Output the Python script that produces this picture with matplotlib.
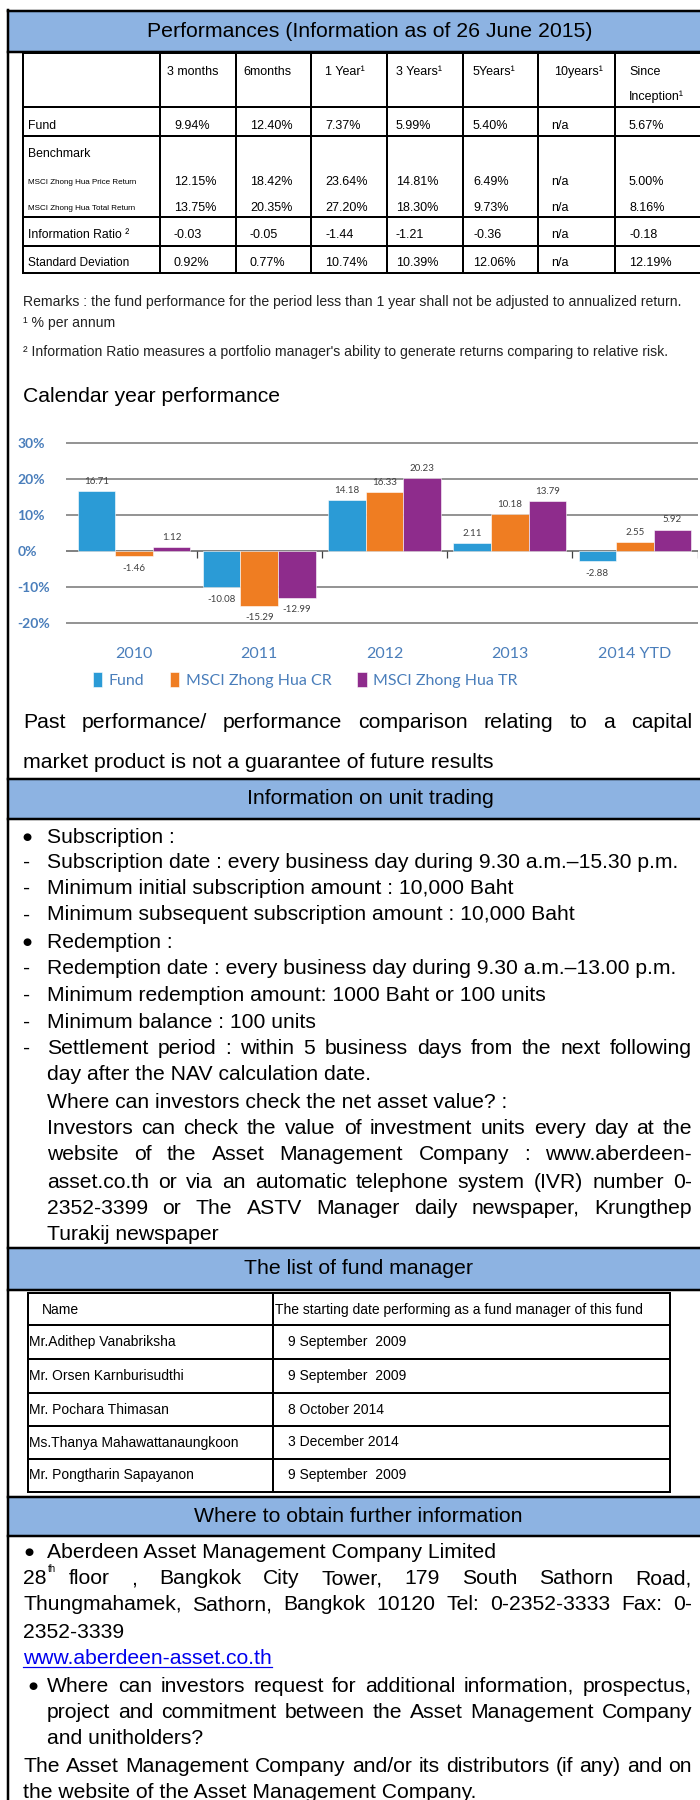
import numpy as np
import matplotlib
matplotlib.use('Agg')
import matplotlib.pyplot as plt
import matplotlib.font_manager as fm
from matplotlib.lines import Line2D
from matplotlib.patches import Rectangle

# ---------------- data ----------------
perf_cols = ['3 months', '6months', '1 Year¹', '3 Years¹', '5Years¹', '10years¹', 'Since\nInception¹']
fund_row = ['9.94%', '12.40%', '7.37%', '5.99%', '5.40%', 'n/a', '5.67%']
msci_price_row = ['12.15%', '18.42%', '23.64%', '14.81%', '6.49%', 'n/a', '5.00%']
msci_total_row = ['13.75%', '20.35%', '27.20%', '18.30%', '9.73%', 'n/a', '8.16%']
info_ratio_row = ['-0.03', '-0.05', '-1.44', '-1.21', '-0.36', 'n/a', '-0.18']
std_dev_row = ['0.92%', '0.77%', '10.74%', '10.39%', '12.06%', 'n/a', '12.19%']

years = ['2010', '2011', '2012', '2013', '2014 YTD']
fund = [16.71, -10.08, 14.18, 2.11, -2.88]
msci_cr = [-1.46, -15.29, 16.33, 10.18, 2.55]
msci_tr = [1.12, -12.99, 20.23, 13.79, 5.92]
series_names = ['Fund', 'MSCI Zhong Hua CR', 'MSCI Zhong Hua TR']
series_colors = ['#2b9bd6', '#ef7d22', '#8e2c8c']

managers = ['Mr.Adithep Vanabriksha', 'Mr. Orsen Karnburisudthi', 'Mr. Pochara Thimasan',
            'Ms.Thanya Mahawattanaungkoon', 'Mr. Pongtharin Sapayanon']
start_dates = ['9 September  2009', '9 September  2009', '8 October 2014',
               '3 December 2014', '9 September  2009']

# ---------------- page setup ----------------
names = {f.name for f in fm.fontManager.ttflist}
BODY = 'Liberation Sans Narrow' if 'Liberation Sans Narrow' in names else 'Liberation Sans'
REG = 'Liberation Sans'
CHART = 'Lato'
BAND = '#8db3e2'
BLUE = '#4a7ebb'

W, H = 700, 1800
fig = plt.figure(figsize=(7, 18), dpi=100)
r = fig.canvas.get_renderer()


def fx(x):
    return x / W


def fy(y):
    return 1 - y / H


def hline(y, x0, x1, lw=2.0, color='black'):
    fig.add_artist(Line2D([fx(x0), fx(x1)], [fy(y), fy(y)], color=color, lw=lw * 0.72))


def vline(x, y0, y1, lw=2.0):
    fig.add_artist(Line2D([fx(x), fx(x)], [fy(y0), fy(y1)], color='black', lw=lw * 0.72))


def txt(x, y, s, size, ha='left', family=BODY, **kw):
    return fig.text(fx(x), fy(y), s, fontsize=size, ha=ha, va='center',
                    family=[family, 'DejaVu Sans'], **kw)


def size_for(s, width, family=BODY):
    # font size at which the line s is about `width` pixels long
    t = txt(0, 0, s, 12, family=family)
    wd = t.get_window_extent(r).width
    t.remove()
    return 12 * width / wd


FS = size_for('Subscription date : every business day during 9.30 a.m.–15.30 p.m.', 634)
FP = size_for('market product is not a guarantee of future results', 473)
FA = size_for('the website of the Asset Management Company.', 454)
FB = 15.3


def justify(s, x0, x1, y, size, family=BODY):
    words = s.split()
    ts = [txt(0, y, w, size, family=family) for w in words]
    widths = [t.get_window_extent(r).width for t in ts]
    gap = (x1 - x0 - sum(widths)) / max(len(words) - 1, 1)
    x = x0
    for t, w in zip(ts, widths):
        t.set_x(fx(x))
        x += w + gap
    return ts, widths


def band(y0, y1, title, xc):
    fig.add_artist(Rectangle((fx(8), fy(y1)), 1 - fx(8), (y1 - y0) / H,
                             facecolor=BAND, edgecolor='none'))
    hline(y0, 8, 700, 2.5)
    hline(y1, 8, 700, 2.5)
    txt(xc, (y0 + y1) / 2, title, FB, ha='center', family=REG)


def bullet(x, y):
    txt(x, y, '●', 7.5, family='DejaVu Sans')


# outer frame
vline(8, 10, 1800, 2.5)

# ---------------- performance table ----------------
band(11, 52, 'Performances (Information as of 26 June 2015)', 370)
col_x = [23, 160, 236, 311, 387, 463, 538, 615]
row_y = [53, 107, 136, 217, 246, 273]
for y in row_y:
    hline(y, 23, 700)
for x in col_x:
    vline(x, 53, 273)

text_x = [167, 243, 325, 396, 473, 554, 629]
val_x = [174, 250, 325, 396, 473, 551, 629]
for x, c in zip(text_x, perf_cols):
    for k, part in enumerate(c.split('\n')):
        txt(x, 72 + 25 * k, part, 9)

txt(28, 126, 'Fund', 8.8)
txt(28, 154, 'Benchmark', 8.8)
txt(28, 182, 'MSCI Zhong Hua Price Return', 5.8)
txt(28, 208, 'MSCI Zhong Hua Total Return', 5.8)
txt(28, 235, 'Information Ratio ²', 8.8)
txt(28, 263, 'Standard Deviation', 8.6)
for y, row in zip([126, 182, 208, 235, 263],
                  [fund_row, msci_price_row, msci_total_row, info_ratio_row, std_dev_row]):
    for x, v in zip(val_x, row):
        txt(x, y, v, 9)

txt(23, 302, 'Remarks : the fund performance for the period less than 1 year shall not be adjusted to annualized return.', 10.1, family=REG, color='#222222')
txt(23, 323, '¹ % per annum', 10.1, family=REG, color='#222222')
txt(23, 352, '² Information Ratio measures a portfolio manager\'s ability to generate returns comparing to relative risk.', 10.1, family=REG, color='#222222')
txt(23, 397, 'Calendar year performance', 15.2, family=REG)

# ---------------- calendar year chart ----------------
ax = fig.add_axes([fx(66), fy(624.8), (697.6 - 66) / W, (624.8 - 441.2) / H])
x = np.arange(len(years))
w = 0.3
handles = []
for i, (vals, c, n) in enumerate(zip([fund, msci_cr, msci_tr], series_colors, series_names)):
    b = ax.bar(x + (i - 1) * w, vals, w, color=c, edgecolor='white', lw=0.4, label=n, zorder=3)
    handles.append(b)
    for rect, v in zip(b, vals):
        ax.annotate(f'{v:.2f}', (rect.get_x() + rect.get_width() / 2, v),
                    xytext=(0, 7 if v > 0 else -8.5), textcoords='offset points',
                    ha='center', va='center', fontsize=7, color='#404040', family=CHART)

ax.set_ylim(-20.5, 30.5)
ax.set_xlim(-0.543, 4.5)
ticks = list(range(-20, 31, 10))
ax.set_yticks(ticks)
ax.set_yticklabels([f'{t}%' for t in ticks])
ax.yaxis.grid(True, color='#808080', lw=1.2)
ax.set_axisbelow(True)
ax.axhline(0, color='#808080', lw=1.2, zorder=2)
ax.vlines(x + 0.5, -1.9, 0, color='#404040', lw=0.9, zorder=2)
for s in ax.spines.values():
    s.set_visible(False)
ax.tick_params(axis='y', length=0, pad=35, labelsize=10, labelcolor=BLUE)
for lab in ax.get_yticklabels():
    lab.set_ha('left')
    lab.set_family(CHART)
    lab.set_fontweight('bold')
ax.set_xticks(x)
ax.set_xticklabels(years, family=CHART)
ax.tick_params(axis='x', length=0, pad=16, labelsize=11.5, labelcolor=BLUE)
ax.set_facecolor('none')

ax.legend(handles=handles, labels=series_names, loc='center',
          bbox_to_anchor=(fx(305), fy(680)), bbox_transform=fig.transFigure,
          ncol=3, frameon=False, handlelength=0.6, handleheight=1.1,
          handletextpad=0.4, columnspacing=1.6, labelcolor=BLUE,
          prop={'family': CHART, 'size': 11.5})

justify('Past performance/ performance comparison relating to a capital', 23, 692, 723, FP)
txt(23, 762, 'market product is not a guarantee of future results', FP)

# ---------------- unit trading ----------------
band(779, 819, 'Information on unit trading', 370)
bullet(22, 837)
txt(47, 837, 'Subscription :', FS)
txt(23, 862, '-', FS)
txt(47, 862, 'Subscription date : every business day during 9.30 a.m.–15.30 p.m.', FS)
txt(23, 888, '-', FS)
txt(47, 888, 'Minimum initial subscription amount : 10,000 Baht', FS)
txt(23, 915, '-', FS)
txt(47, 915, 'Minimum subsequent subscription amount : 10,000 Baht', FS)
bullet(22, 942)
txt(47, 942, 'Redemption :', FS)
txt(23, 968, '-', FS)
txt(47, 968, 'Redemption date : every business day during 9.30 a.m.–13.00 p.m.', FS)
txt(23, 995, '-', FS)
txt(47, 995, 'Minimum redemption amount: 1000 Baht or 100 units', FS)
txt(23, 1022, '-', FS)
txt(47, 1022, 'Minimum balance : 100 units', FS)
txt(23, 1048, '-', FS)
justify('Settlement period : within 5 business days from the next following', 47, 692, 1048, FS)
txt(47, 1075, 'day after the NAV calculation date.', FS)
txt(47, 1102, 'Where can investors check the net asset value? :', FS)
justify('Investors can check the value of investment units every day at the', 47, 692, 1128, FS)
justify('website of the Asset Management Company : www.aberdeen-', 47, 692, 1155, FS)
justify('asset.co.th or via an automatic telephone system (IVR) number 0-', 47, 692, 1182, FS)
justify('2352-3399 or The ASTV Manager daily newspaper, Krungthep', 47, 692, 1208, FS)
txt(47, 1235, 'Turakij newspaper', FS)

# ---------------- fund managers ----------------
band(1248, 1290, 'The list of fund manager', 358)
mrow_y = [1293, 1325, 1359, 1393, 1426, 1459, 1492]
for y in mrow_y:
    hline(y, 28, 670)
for xx in [28, 273, 670]:
    vline(xx, 1293, 1492)
txt(42, 1310, 'Name', 10)
txt(275, 1310, 'The starting date performing as a fund manager of this fund', 10)
for k, (m, d) in enumerate(zip(managers, start_dates)):
    yc = (mrow_y[k + 1] + mrow_y[k + 2]) / 2
    txt(29, yc, m, 10)
    txt(288, yc, d, 10)

# ---------------- further information ----------------
band(1497, 1536, 'Where to obtain further information', 358)
bullet(24, 1552)
txt(47, 1552, 'Aberdeen Asset Management Company Limited', FA)
ts, ws = justify('28 floor , Bangkok City Tower, 179 South Sathorn Road,', 23, 692, 1579, FA)
txt(23 + ws[0] + 1, 1569, 'th', 7)
justify('Thungmahamek, Sathorn, Bangkok 10120 Tel: 0-2352-3333 Fax: 0-', 23, 692, 1605, FA)
txt(23, 1633, '2352-3339', FA)
link = txt(23, 1658, 'www.aberdeen-asset.co.th', FA, color='#0000ee')
lw_ = link.get_window_extent(r).width
hline(1667, 23, 23 + lw_, 1.2, color='#0000ee')
bullet(28, 1686)
justify('Where can investors request for additional information, prospectus,', 47, 692, 1686, FA)
justify('project and commitment between the Asset Management Company', 47, 692, 1712, FA)
txt(47, 1739, 'and unitholders?', FA)
justify('The Asset Management Company and/or its distributors (if any) and on', 23, 692, 1766, FA)
txt(23, 1792, 'the website of the Asset Management Company.', FA)

fig.savefig('out.png', dpi=100)
